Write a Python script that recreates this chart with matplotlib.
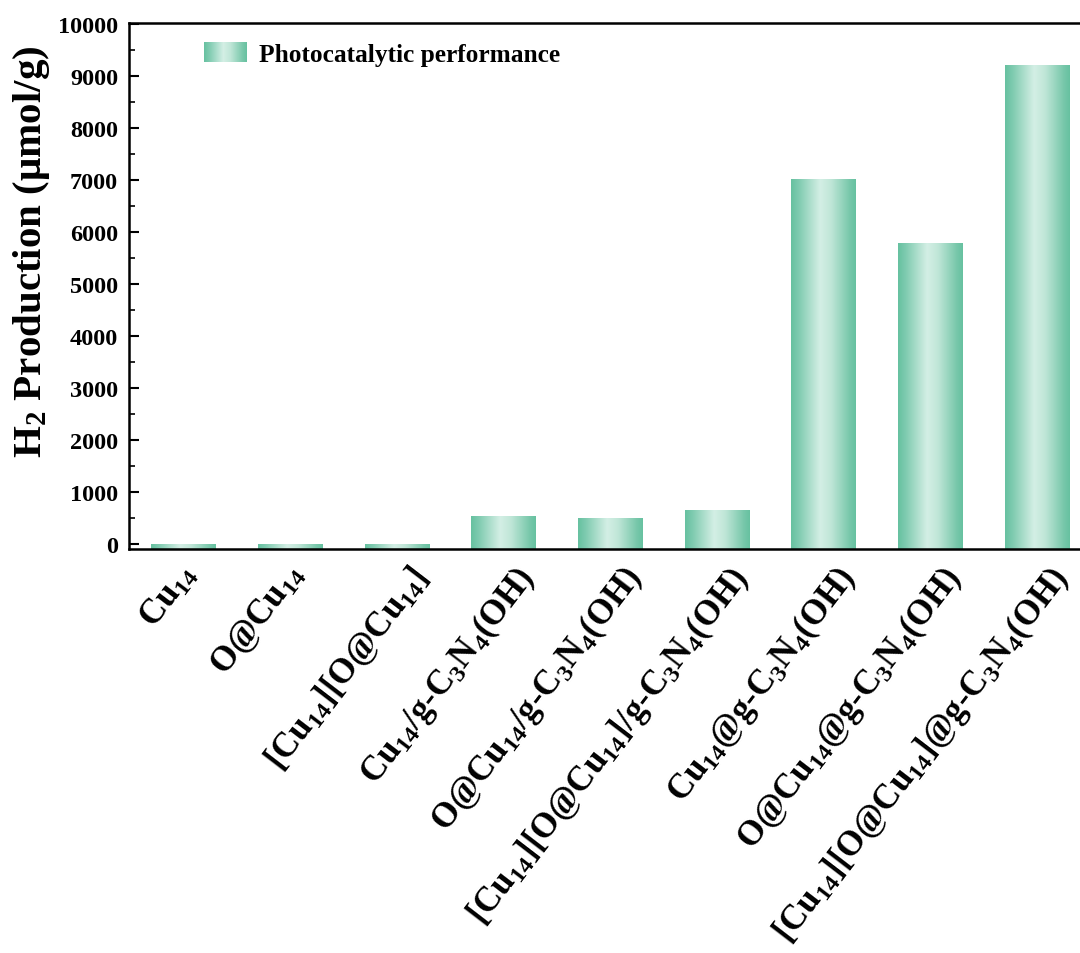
import numpy as np
import matplotlib
matplotlib.use("Agg")
import matplotlib.pyplot as plt
from matplotlib.colors import LinearSegmentedColormap
from matplotlib.legend_handler import HandlerBase
from matplotlib.image import BboxImage
from matplotlib.transforms import Bbox, TransformedBbox, ScaledTranslation
from matplotlib.patches import Patch

plt.rcParams['font.family'] = ['Liberation Serif', 'DejaVu Serif']
plt.rcParams['font.weight'] = 'bold'
plt.rcParams['mathtext.fontset'] = 'custom'
plt.rcParams['mathtext.rm'] = 'Liberation Serif:bold'
plt.rcParams['mathtext.bf'] = 'Liberation Serif:bold'
plt.rcParams['mathtext.it'] = 'Liberation Serif:bold:italic'
plt.rcParams['mathtext.default'] = 'bf'

# ---- data ----
categories = [
    r'Cu$_{14}$',
    r'O@Cu$_{14}$',
    r'[Cu$_{14}$][O@Cu$_{14}$]',
    r'Cu$_{14}$/g-C$_{3}$N$_{4}$(OH)',
    r'O@Cu$_{14}$/g-C$_{3}$N$_{4}$(OH)',
    r'[Cu$_{14}$][O@Cu$_{14}$]/g-C$_{3}$N$_{4}$(OH)',
    r'Cu$_{14}$@g-C$_{3}$N$_{4}$(OH)',
    r'O@Cu$_{14}$@g-C$_{3}$N$_{4}$(OH)',
    r'[Cu$_{14}$][O@Cu$_{14}$]@g-C$_{3}$N$_{4}$(OH)',
]
h2_production = [10, 10, 10, 540, 515, 665, 7025, 5790, 9215]
yticks = [0, 1000, 2000, 3000, 4000, 5000, 6000, 7000, 8000, 9000, 10000]
series_label = 'Photocatalytic performance'
ylabel = r'H$_{2}$ Production ($\mathbf{\mu}$mol/g)'

# ---- style ----
dark = '#66c1a0'
light = '#d4efe5'
cmap = LinearSegmentedColormap.from_list(
    'bar', [(0.0, dark), (0.12, '#7fcbb0'), (0.45, light), (0.62, '#bfe6d7'), (0.9, '#79c8ab'), (1.0, dark)])
grad = np.linspace(0, 1, 256).reshape(1, -1)

W, H = 1080, 954
fig = plt.figure(figsize=(W / 100, H / 100), dpi=100)
ax_left, ax_right = 129.3, 1089.6
ax_top, ax_bot = 24.0, 550.3
ax = fig.add_axes([ax_left / W, (H - ax_bot) / H, (ax_right - ax_left) / W, (ax_bot - ax_top) / H])

ymin, ymax = -96, 10025
x = np.arange(len(categories))
bw = 0.6
bars = ax.bar(x, np.array(h2_production) - ymin, bottom=ymin, width=bw,
              color='none', edgecolor='none')
for b in bars:
    x0, y0 = b.get_x(), b.get_y()
    im = ax.imshow(grad, cmap=cmap, aspect='auto', interpolation='bicubic',
                   extent=[x0, x0 + b.get_width(), y0, y0 + b.get_height()], zorder=2)
    im.set_clip_path(b)
ax.set_xlim(-0.505, 8.495)
ax.set_ylim(ymin, ymax)

for s in ax.spines.values():
    s.set_linewidth(1.8)
ax.set_yticks(yticks)
ax.set_yticks(np.arange(500, 10000, 1000), minor=True)
ax.tick_params(axis='y', which='major', direction='in', length=7, width=1.5, labelsize=17.5, pad=8)
ax.tick_params(axis='y', which='minor', direction='in', length=4, width=1.2)
ax.tick_params(axis='x', length=0, pad=10)
for t in ax.get_yticklabels():
    t.set_fontweight('bold')

ax.set_xticks(x)
ax.set_xticklabels(categories, rotation=52.5, ha='right', va='center',
                   rotation_mode='anchor', fontsize=25, fontweight='bold')
for i, t in enumerate(ax.get_xticklabels()):
    dx, dy = (25, -8) if i >= 2 else (7, -4)
    t.set_transform(t.get_transform() + ScaledTranslation(dx / 100, dy / 100, fig.dpi_scale_trans))

ax.set_ylabel(ylabel, fontsize=29.5, fontweight='bold')
ax.yaxis.set_label_coords(-0.081, 0.567)


class GradHandler(HandlerBase):
    def legend_artist(self, legend, orig_handle, fontsize, handlebox):
        x0, y0 = handlebox.xdescent, handlebox.ydescent
        w, h = handlebox.width, handlebox.height
        bb = TransformedBbox(Bbox.from_bounds(-x0, -y0, w, h), handlebox.get_transform())
        img = BboxImage(bb, cmap=cmap, interpolation='bicubic')
        img.set_data(grad)
        handlebox.add_artist(img)
        return img


handle = Patch(facecolor=dark, label=series_label)
ax.legend(handles=[handle], handler_map={Patch: GradHandler()}, loc='center left',
          bbox_to_anchor=((204 - ax_left) / (ax_right - ax_left), (ax_bot - 55.5) / (ax_bot - ax_top)),
          frameon=False, borderpad=0, borderaxespad=0, handlelength=1.69, handleheight=0.79,
          handletextpad=0.47, prop={'family': 'Liberation Serif', 'weight': 'bold', 'size': 18.3})

fig.savefig('out.png', dpi=100)
